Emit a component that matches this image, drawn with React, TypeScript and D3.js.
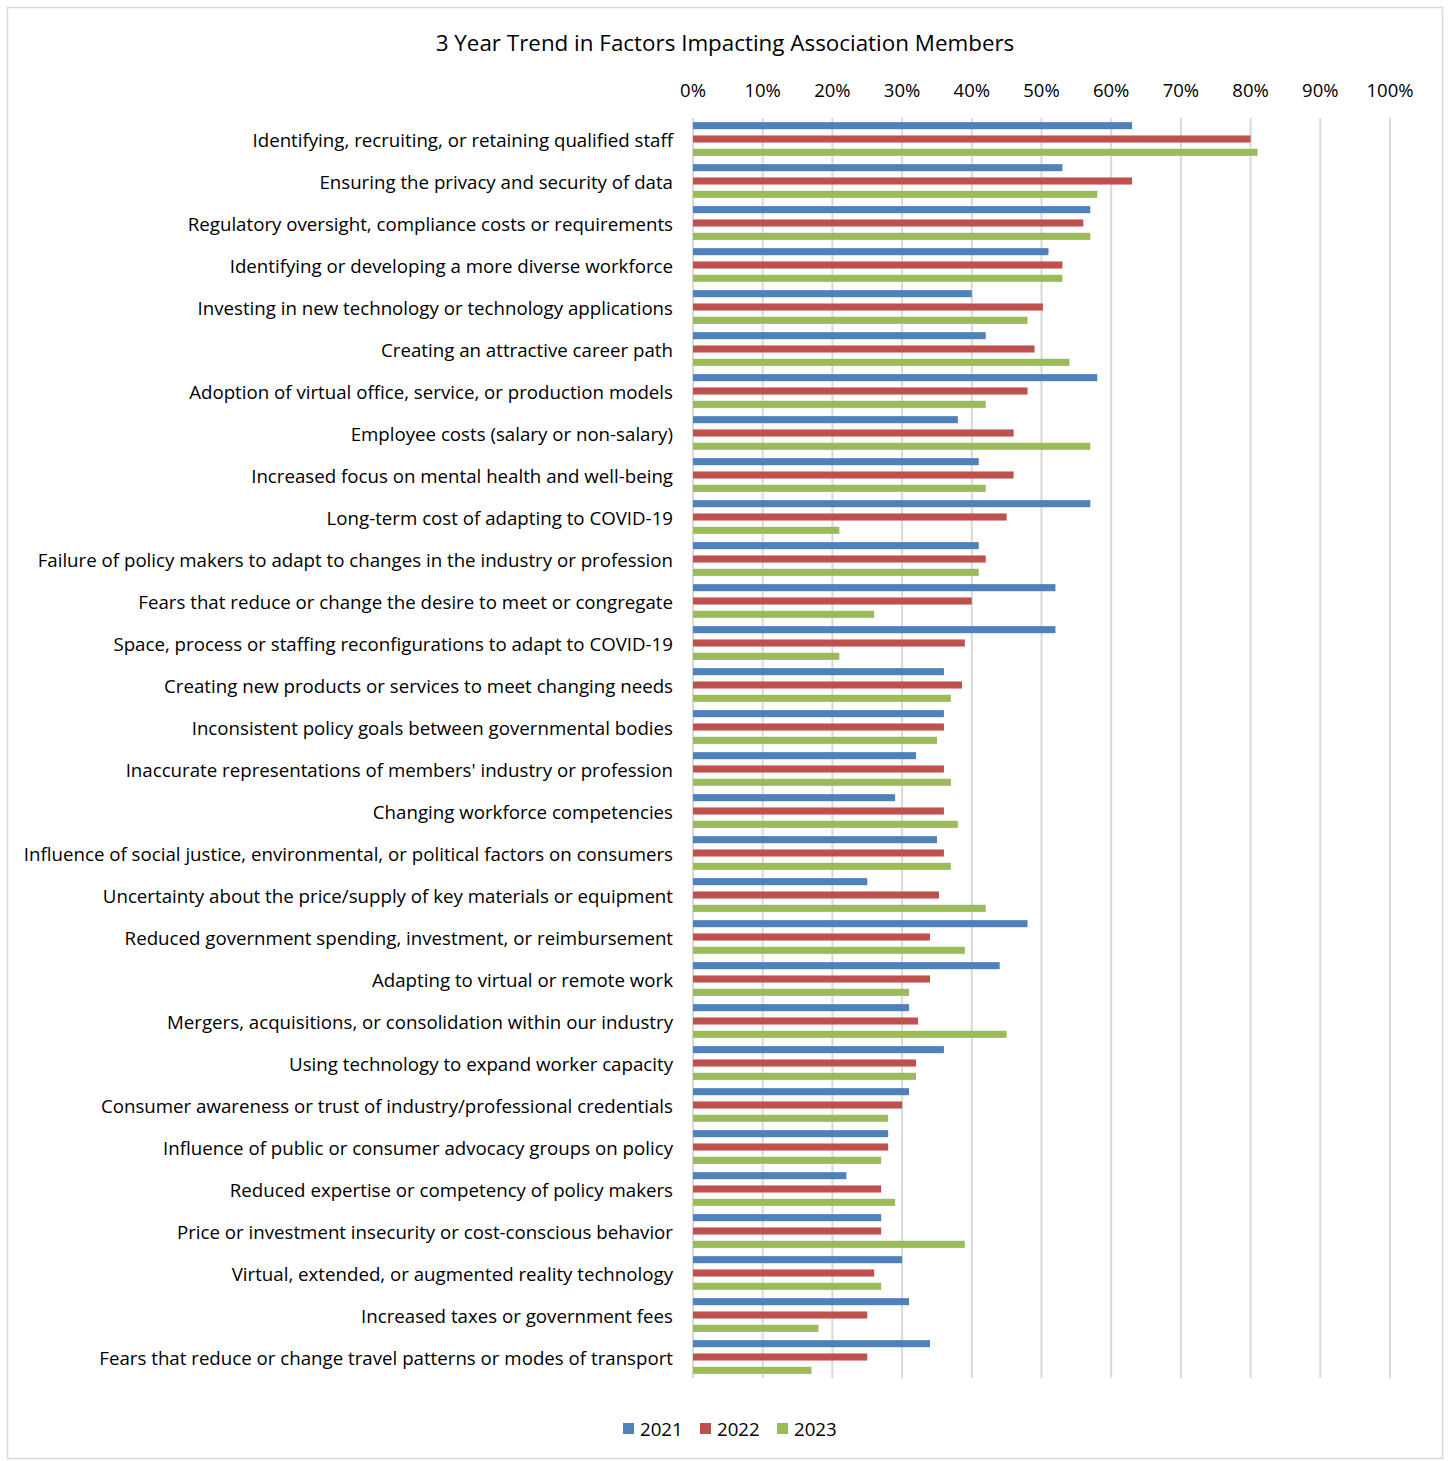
import { useEffect, useRef } from "react";
import * as d3 from "d3";

const categories = [
  "Identifying, recruiting, or retaining qualified staff",
  "Ensuring the privacy and security of data",
  "Regulatory oversight, compliance costs or requirements",
  "Identifying or developing a more diverse workforce",
  "Investing in new technology or technology applications",
  "Creating an attractive career path",
  "Adoption of virtual office, service, or production models",
  "Employee costs (salary or non-salary)",
  "Increased focus on mental health and well-being",
  "Long-term cost of adapting to COVID-19",
  "Failure of policy makers to adapt to changes in the industry or profession",
  "Fears that reduce or change the desire to meet or congregate",
  "Space, process or staffing reconfigurations to adapt to COVID-19",
  "Creating new products or services to meet changing needs",
  "Inconsistent policy goals between governmental bodies",
  "Inaccurate representations of members' industry or profession",
  "Changing workforce competencies",
  "Influence of social justice, environmental, or political factors on consumers",
  "Uncertainty about the price/supply of key materials or equipment",
  "Reduced government spending, investment, or reimbursement",
  "Adapting to virtual or remote work",
  "Mergers, acquisitions, or consolidation within our industry",
  "Using technology to expand worker capacity",
  "Consumer awareness or trust of industry/professional credentials",
  "Influence of public or consumer advocacy groups on policy",
  "Reduced expertise or competency of policy makers",
  "Price or investment insecurity or cost-conscious behavior",
  "Virtual, extended, or augmented reality technology",
  "Increased taxes or government fees",
  "Fears that reduce or change travel patterns or modes of transport",
];

const values2021 = [
  63, 53, 57, 51, 40, 42, 58, 38, 41, 57, 41, 52, 52, 36, 36, 32, 29, 35, 25,
  48, 44, 31, 36, 31, 28, 22, 27, 30, 31, 34,
];
const values2022 = [
  80, 63, 56, 53, 50.2, 49, 48, 46, 46, 45, 42, 40, 39, 38.6, 36, 36, 36, 36,
  35.3, 34, 34, 32.3, 32, 30, 28, 27, 27, 26, 25, 25,
];
const values2023 = [
  81, 58, 57, 53, 48, 54, 42, 57, 42, 21, 41, 26, 21, 37, 35, 37, 38, 37, 42,
  39, 31, 45, 32, 28, 27, 29, 39, 27, 18, 17,
];

const years = ["2021", "2022", "2023"];
const seriesValues = [values2021, values2022, values2023];
const colors = ["#4F81BD", "#C0504D", "#9BBB59"];
const ticks = [0, 10, 20, 30, 40, 50, 60, 70, 80, 90, 100];

const title = "3 Year Trend in Factors Impacting Association Members";

export default function App() {
  const svgRef = useRef<SVGSVGElement>(null);

  useEffect(() => {
    const width = 1448;
    const height = 1461;
    const margin = { top: 118, right: 58, bottom: 83, left: 693 };
    const font = "'Open Sans', 'Noto Sans', sans-serif";

    const svg = d3.select(svgRef.current);
    svg.selectAll("*").remove();
    svg
      .attr("width", width)
      .attr("height", height)
      .style("background", "#fff");

    // chart border
    svg
      .append("rect")
      .attr("x", 7.5)
      .attr("y", 7.5)
      .attr("width", 1435)
      .attr("height", 1451)
      .attr("fill", "#fff")
      .attr("stroke", "#D9D9D9")
      .attr("stroke-width", 1.5);

    const xScale = d3
      .scaleLinear()
      .domain([0, 100])
      .range([margin.left, width - margin.right]);

    const yScale = d3
      .scaleBand()
      .domain(categories)
      .range([margin.top, height - margin.bottom]);

    const subScale = d3
      .scaleBand()
      .domain(years)
      .range([0, yScale.bandwidth()])
      .paddingInner(0.47)
      .paddingOuter(0.31);

    // gridlines
    svg
      .append("g")
      .selectAll("line")
      .data(ticks)
      .enter()
      .append("line")
      .attr("x1", (d) => xScale(d))
      .attr("x2", (d) => xScale(d))
      .attr("y1", margin.top)
      .attr("y2", height - margin.bottom)
      .attr("stroke", "#D9D9D9")
      .attr("stroke-width", 2);

    // top tick labels
    svg
      .append("g")
      .selectAll("text")
      .data(ticks)
      .enter()
      .append("text")
      .attr("x", (d) => xScale(d))
      .attr("y", 89)
      .attr("text-anchor", "middle")
      .attr("dominant-baseline", "central")
      .style("font-family", font)
      .style("font-size", "18.5px")
      .attr("fill", "#000")
      .text((d) => `${d}%`);

    // bars
    const groups = svg
      .append("g")
      .selectAll("g")
      .data(categories)
      .enter()
      .append("g")
      .attr("transform", (d) => `translate(0, ${yScale(d)})`);

    groups
      .selectAll("rect")
      .data((_, i) =>
        years.map((year, s) => ({ year, s, value: seriesValues[s][i] }))
      )
      .enter()
      .append("rect")
      .attr("x", xScale(0))
      .attr("y", (d) => subScale(d.year) as number)
      .attr("width", (d) => xScale(d.value) - xScale(0))
      .attr("height", subScale.bandwidth())
      .attr("fill", (d) => colors[d.s]);

    // category labels
    svg
      .append("g")
      .selectAll("text")
      .data(categories)
      .enter()
      .append("text")
      .attr("x", margin.left - 20)
      .attr("y", (d) => (yScale(d) as number) + yScale.bandwidth() / 2)
      .attr("text-anchor", "end")
      .attr("dominant-baseline", "central")
      .style("font-family", font)
      .style("font-size", "18.7px")
      .attr("fill", "#000")
      .text((d) => d);

    // title
    svg
      .append("text")
      .attr("x", 725)
      .attr("y", 42)
      .attr("text-anchor", "middle")
      .attr("dominant-baseline", "central")
      .style("font-family", font)
      .style("font-size", "22.4px")
      .attr("fill", "#000")
      .text(title);

    // legend
    const legendX = [623, 700, 777];
    const legend = svg
      .append("g")
      .selectAll("g")
      .data(years)
      .enter()
      .append("g")
      .attr("transform", (_, i) => `translate(${legendX[i]}, 1428)`);

    legend
      .append("rect")
      .attr("x", 0)
      .attr("y", -5)
      .attr("width", 11)
      .attr("height", 11)
      .attr("fill", (_, i) => colors[i]);

    legend
      .append("text")
      .attr("x", 17)
      .attr("y", 0)
      .attr("dominant-baseline", "central")
      .style("font-family", font)
      .style("font-size", "18.7px")
      .attr("fill", "#000")
      .text((d) => d);
  }, []);

  return (
    <svg
      ref={svgRef}
      style={{ position: "absolute", left: 0, top: 0, display: "block" }}
    ></svg>
  );
}
